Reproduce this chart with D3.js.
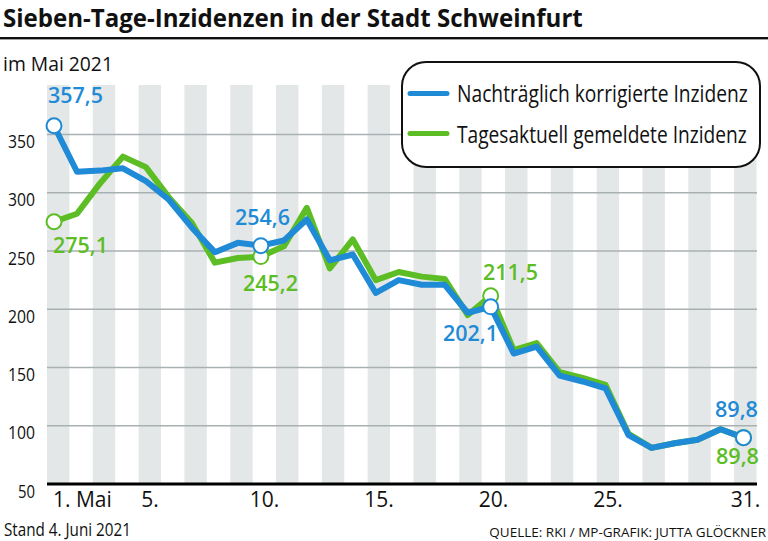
<!DOCTYPE html>
<html>
<head>
<meta charset="utf-8">
<script src="https://cdn.jsdelivr.net/npm/d3@7"></script>
<style>
  html, body { margin: 0; padding: 0; background: #fff; }
  svg { display: block; }
  text { font-family: "Open Sans", "Noto Sans", "DejaVu Sans", sans-serif; }
</style>
</head>
<body>
<svg id="chart" width="768" height="541"></svg>
<script>
const days = [1,2,3,4,5,6,7,8,9,10,11,12,13,14,15,16,17,18,19,20,21,22,23,24,25,26,27,28,29,30,31];
const corrected = [357.5,318,319,321,310,294,270,249,257,254.6,259,277,242,247,214,225,221,221,197,202.1,162,168,143,138,132,92,81,85,88,97,89.8];
const reported  = [275.1,282,308,331,322,296,274,240,244,245.2,254,287,235,260,225,232,228,226,195,211.5,165,171,146,141,135,93,81,85,88,97,89.8];
const yTicks = [50,100,150,200,250,300,350];
const gridValues = [100,150,200,250,300,350];
const xTickDays = [1,5,10,15,20,25,31];
const xTickLabels = ["1. Mai","5.","10.","15.","20.","25.","31."];
const labelledBlue = [{day:1, text:"357,5"},{day:10, text:"254,6"},{day:20, text:"202,1"},{day:31, text:"89,8"}];
const labelledGreen = [{day:1, text:"275,1"},{day:10, text:"245,2"},{day:20, text:"211,5"},{day:31, text:"89,8"}];
const seriesNames = ["Nachträglich korrigierte Inzidenz","Tagesaktuell gemeldete Inzidenz"];

const BLUE = "#1f8ad6";
const GREEN = "#5cbd24";

const svg = d3.select("#chart");

// helper: draw text horizontally squeezed to a target width via a scale transform
function squeezed(parent, x, y, txt, size, weight, width, anchor) {
  const g = parent.append("g");
  const t = g.append("text").attr("x", 0).attr("y", 0)
    .attr("font-size", size).attr("font-weight", weight).attr("fill", "#111").text(txt);
  const natural = t.node().getComputedTextLength();
  const sx = Math.min(1, width / natural);
  let x0 = x;
  if (anchor === "end") x0 = x - natural * sx;
  g.attr("transform", `translate(${x0},${y}) scale(${sx},1)`);
  return t;
}

// scales
const yScale = d3.scaleLinear().domain([50, 350]).range([484, 134.5]);
const xLine = d3.scaleLinear().domain([1, 31]).range([54, 743.5]);
const xBand = d3.scaleBand().domain(days).range([47, 757]).paddingInner(0);

// title
squeezed(svg, 3, 26.5, "Sieben-Tage-Inzidenzen in der Stadt Schweinfurt", 25.5, 700, 580);
svg.append("rect").attr("x", 0).attr("y", 37).attr("width", 768).attr("height", 2.4).attr("fill", "#111");

squeezed(svg, 3, 71, "im Mai 2021", 19.5, 400, 110);

// stripes (odd days)
svg.append("g").selectAll("rect").data(days.filter(d => d % 2 === 1)).join("rect")
  .attr("x", d => xBand(d)).attr("width", xBand.bandwidth() - 0.5)
  .attr("y", 85).attr("height", 484 - 85)
  .attr("fill", "#e4e7e8");

// gridlines
svg.append("g").selectAll("line").data(gridValues).join("line")
  .attr("x1", 47).attr("x2", 757)
  .attr("y1", d => yScale(d)).attr("y2", d => yScale(d))
  .attr("stroke", "#a9b0b2").attr("stroke-width", 1.5);

// baseline
svg.append("line").attr("x1", 47).attr("x2", 757).attr("y1", 484).attr("y2", 484)
  .attr("stroke", "#000").attr("stroke-width", 3.2);

// y tick labels
svg.append("g").selectAll("text").data(yTicks).join("text")
  .attr("x", 35).attr("y", d => yScale(d) + (d === 50 ? 14 : 13.5))
  .attr("text-anchor", "end").attr("font-size", 17.5).attr("fill", "#111")
  .attr("textLength", d => d >= 100 ? 27 : 17).attr("lengthAdjust", "spacingAndGlyphs")
  .text(d => d);

// x tick labels
svg.append("g").selectAll("text").data(xTickDays).join("text")
  .attr("x", (d, i) => i === 0 ? xBand(d) + 6 : xBand(d) + xBand.bandwidth() / 2)
  .attr("y", 507)
  .attr("text-anchor", (d, i) => i === 0 ? "start" : "middle")
  .attr("font-size", 21).attr("fill", "#111")
  .text((d, i) => xTickLabels[i]);

// lines
const line = d3.line().x((d, i) => xLine(days[i])).y(d => yScale(d));
svg.append("path").datum(reported).attr("d", line)
  .attr("fill", "none").attr("stroke", GREEN).attr("stroke-width", 6)
  .attr("stroke-linejoin", "round");
svg.append("path").datum(corrected).attr("d", line)
  .attr("fill", "none").attr("stroke", BLUE).attr("stroke-width", 6)
  .attr("stroke-linejoin", "round");

// markers
function markers(list, values, color) {
  svg.append("g").selectAll("circle").data(list).join("circle")
    .attr("cx", d => xLine(d.day)).attr("cy", d => yScale(values[days.indexOf(d.day)]))
    .attr("r", 7.5).attr("fill", "#fff").attr("stroke", color).attr("stroke-width", 2);
}
markers(labelledGreen, reported, GREEN);
markers(labelledBlue, corrected, BLUE);

// value labels
const blueLabelPos = [[48, 103], [235, 225], [443, 341], [715, 417]];
const greenLabelPos = [[53, 253], [243, 291], [483, 280], [716, 464]];
svg.append("g").selectAll("text").data(labelledBlue).join("text")
  .attr("x", (d, i) => blueLabelPos[i][0]).attr("y", (d, i) => blueLabelPos[i][1])
  .attr("font-size", 22).attr("font-weight", 600).attr("fill", BLUE)
  .attr("textLength", d => d.text.length === 5 ? 55 : 43).attr("lengthAdjust", "spacingAndGlyphs")
  .text(d => d.text);
svg.append("g").selectAll("text").data(labelledGreen).join("text")
  .attr("x", (d, i) => greenLabelPos[i][0]).attr("y", (d, i) => greenLabelPos[i][1])
  .attr("font-size", 22).attr("font-weight", 600).attr("fill", GREEN)
  .attr("textLength", d => d.text.length === 5 ? 55 : 43).attr("lengthAdjust", "spacingAndGlyphs")
  .text(d => d.text);

// legend
const lg = svg.append("g");
lg.append("rect").attr("x", 402).attr("y", 62).attr("width", 358).attr("height", 105)
  .attr("rx", 24).attr("ry", 24).attr("fill", "#fff").attr("stroke", "#111").attr("stroke-width", 2);
[BLUE, GREEN].forEach((c, i) => {
  lg.append("line").attr("x1", 410).attr("x2", 447)
    .attr("y1", 93.5 + i * 40).attr("y2", 93.5 + i * 40)
    .attr("stroke", c).attr("stroke-width", 5).attr("stroke-linecap", "round");
  squeezed(lg, 457, 102 + i * 40.5, seriesNames[i], 23, 400, i === 0 ? 291 : 290);
});

// footer
squeezed(svg, 4, 536, "Stand 4. Juni 2021", 17.5, 400, 127);
squeezed(svg, 766, 537, "QUELLE: RKI / MP-GRAFIK: JUTTA GLÖCKNER", 13.5, 400, 283, "end");
</script>
</body>
</html>
